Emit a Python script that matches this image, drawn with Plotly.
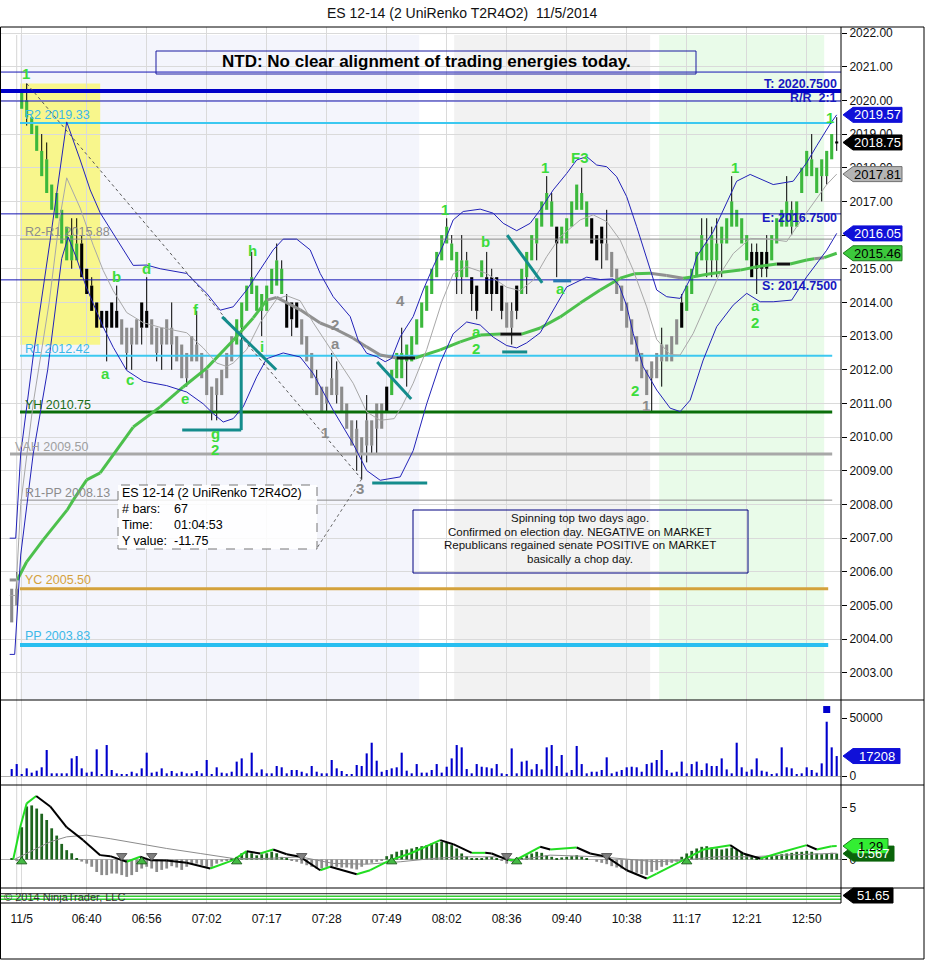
import plotly.graph_objects as go

W, H = 925, 960
FONT = "Liberation Sans, Arial, Helvetica, sans-serif"


def PX(x):
    return x / W


def PY(y):
    return 1 - y / H


# ---------------- geometry (pixels) ----------------
PLOT_L, PLOT_R = 1, 841
PRICE_T, PRICE_B = 27, 700
VOL_B, OSC_B, BOT_B = 785, 888, 903
X_RANGE = [-2.14, 165.86]
PRICE_RANGE = [2002.196, 2022.178]
VOL_RANGE = [-7759, 65517]
OSC_RANGE = [-2.74, 7.163]

# ---------------- data ----------------
time_ticks = [2, 15, 27, 39, 51, 63, 75, 87, 99, 111, 123, 135, 147, 159]
time_labels = ["11/5", "06:40", "06:56", "07:02", "07:17", "07:28", "07:49",
               "08:02", "08:36", "09:40", "10:38", "11:17", "12:21", "12:50"]
price_ticks = list(range(2003, 2023))

bar_lo = [2004.5, 2005.0, 2019.75, 2019.5, 2019.0, 2018.5, 2017.75, 2017.25, 2016.75, 2016.5,
          2015.75, 2015.25, 2015.25, 2015.25, 2014.75, 2014.25, 2013.75, 2013.25, 2013.25, 2013.25,
          2013.25, 2013.25, 2012.75, 2012.5, 2012.75, 2012.75, 2013.25, 2013.25, 2012.75, 2012.5,
          2012.75, 2012.75, 2012.75, 2012.25, 2011.75, 2011.75, 2012.25, 2012.25, 2011.75, 2011.25,
          2010.75, 2011.25, 2011.25, 2011.75, 2012.25, 2012.75, 2013.25, 2013.75, 2014.25, 2013.75,
          2013.75, 2013.75, 2014.25, 2014.5, 2014.25, 2013.25, 2013.5, 2013.25, 2012.75, 2012.25,
          2011.75, 2011.25, 2010.75, 2011.0, 2011.25, 2011.25, 2010.75, 2010.25, 2009.75, 2009.5,
          2009.5, 2009.75, 2009.75, 2010.25, 2010.25, 2010.75, 2011.25, 2011.75, 2011.75, 2012.25,
          2012.25, 2012.75, 2013.25, 2013.75, 2014.25, 2014.75, 2015.25, 2015.75, 2015.25, 2014.75,
          2014.75, 2014.75, 2014.25, 2013.75, 2014.75, 2014.25, 2014.25, 2014.25, 2013.75, 2013.25,
          2013.25, 2013.75, 2014.25, 2014.75, 2015.25, 2015.75, 2016.25, 2016.75, 2016.25, 2015.75,
          2015.75, 2015.75, 2016.25, 2016.75, 2016.75, 2016.25, 2015.75, 2015.25, 2015.75, 2015.25,
          2014.75, 2014.25, 2013.75, 2013.25, 2012.75, 2012.25, 2011.75, 2011.25, 2011.75, 2011.75,
          2012.25, 2012.25, 2012.25, 2012.75, 2013.25, 2013.75, 2014.25, 2014.75, 2015.25, 2015.25,
          2015.25, 2015.25, 2015.75, 2015.75, 2016.25, 2016.25, 2015.75, 2015.25, 2014.75, 2015.0,
          2015.0, 2015.0, 2015.25, 2015.75, 2016.25, 2016.25, 2016.25, 2016.25, 2017.25, 2017.75,
          2017.75, 2017.25, 2017.75, 2017.75, 2018.25, 2018.72]
bar_hi = [2005.5, 2005.5, 2020.25, 2020.0, 2019.5, 2019.25, 2018.5, 2018.25, 2017.5, 2017.25,
          2016.75, 2016.25, 2016.0, 2015.75, 2015.75, 2015.0, 2014.5, 2014.0, 2013.75, 2013.75,
          2014.0, 2013.75, 2013.5, 2013.25, 2013.25, 2013.5, 2014.0, 2013.75, 2013.5, 2013.25,
          2013.25, 2013.5, 2013.25, 2013.0, 2012.75, 2012.5, 2013.0, 2012.75, 2012.5, 2012.0,
          2011.5, 2011.75, 2012.0, 2012.5, 2013.0, 2013.5, 2014.0, 2014.5, 2014.75, 2014.5,
          2014.25, 2014.5, 2015.0, 2015.25, 2015.0, 2014.0, 2014.0, 2014.0, 2013.5, 2013.0,
          2012.5, 2011.75, 2011.5, 2011.5, 2011.75, 2012.0, 2011.5, 2011.0, 2010.5, 2010.25,
          2010.0, 2010.5, 2010.5, 2011.0, 2011.0, 2011.5, 2012.0, 2012.5, 2012.5, 2012.75,
          2013.0, 2013.5, 2014.0, 2014.5, 2015.0, 2015.5, 2016.0, 2016.25, 2015.75, 2015.5,
          2015.25, 2015.25, 2014.75, 2014.5, 2015.25, 2014.75, 2014.75, 2014.75, 2014.5, 2014.0,
          2013.75, 2014.5, 2015.0, 2015.5, 2016.0, 2016.5, 2017.0, 2017.25, 2017.0, 2016.25,
          2016.25, 2016.5, 2017.0, 2017.5, 2017.25, 2017.0, 2016.5, 2016.0, 2016.25, 2015.75,
          2015.5, 2015.0, 2014.5, 2014.0, 2013.5, 2013.0, 2012.5, 2012.0, 2012.25, 2012.5,
          2012.75, 2012.75, 2013.0, 2013.5, 2014.0, 2014.5, 2015.0, 2015.5, 2016.0, 2015.75,
          2016.0, 2015.75, 2016.25, 2016.5, 2017.0, 2016.75, 2016.5, 2016.0, 2015.5, 2015.5,
          2015.5, 2015.5, 2016.0, 2016.5, 2016.75, 2017.0, 2016.75, 2017.0, 2018.0, 2018.5,
          2018.25, 2018.0, 2018.25, 2018.5, 2019.0, 2018.78]
wick_lo = [2004.5, 2005.0, 2019.75, 2019.25, 2019.0, 2018.5, 2017.75, 2017.25, 2016.75, 2016.5,
           2015.75, 2015.25, 2015.0, 2015.25, 2014.75, 2014.25, 2013.75, 2013.25, 2013.25, 2012.25,
           2013.25, 2013.25, 2012.75, 2012.0, 2012.0, 2012.75, 2012.75, 2013.25, 2012.75, 2012.25,
           2012.0, 2012.75, 2012.0, 2012.25, 2011.75, 2011.5, 2012.25, 2012.25, 2011.75, 2011.25,
           2010.5, 2010.5, 2011.25, 2011.75, 2012.25, 2012.75, 2012.5, 2013.75, 2014.25, 2013.75,
           2013.0, 2013.75, 2014.25, 2014.5, 2014.25, 2013.25, 2013.0, 2013.25, 2012.75, 2012.25,
           2011.75, 2011.25, 2010.75, 2010.75, 2011.25, 2011.0, 2010.75, 2010.25, 2009.75, 2009.0,
           2008.75, 2009.25, 2009.5, 2009.5, 2010.25, 2010.75, 2011.25, 2011.75, 2011.75, 2011.5,
           2012.25, 2012.75, 2013.25, 2013.75, 2014.25, 2014.75, 2015.25, 2015.75, 2015.25, 2014.25,
           2014.25, 2014.75, 2013.75, 2013.5, 2014.75, 2014.25, 2013.75, 2014.25, 2013.5, 2013.25,
           2012.75, 2013.5, 2014.25, 2014.25, 2015.25, 2015.25, 2016.25, 2016.75, 2016.25, 2014.75,
           2015.75, 2015.75, 2016.25, 2016.75, 2016.75, 2016.25, 2015.75, 2015.25, 2015.0, 2015.25,
           2014.75, 2014.25, 2013.75, 2013.25, 2012.75, 2012.25, 2011.75, 2011.25, 2010.75, 2011.75,
           2011.5, 2012.25, 2012.25, 2012.75, 2013.25, 2013.75, 2014.25, 2014.75, 2015.25, 2014.75,
           2014.75, 2014.75, 2014.75, 2015.75, 2016.25, 2016.25, 2015.75, 2015.25, 2014.75, 2014.25,
           2014.75, 2014.75, 2015.25, 2015.75, 2016.25, 2016.25, 2016.0, 2016.25, 2017.25, 2017.75,
           2017.75, 2017.25, 2017.0, 2017.5, 2018.25, 2018.5]
wick_hi = [2005.5, 2006.0, 2020.25, 2020.5, 2019.5, 2019.25, 2019.0, 2018.75, 2017.5, 2017.25,
           2016.75, 2016.25, 2016.5, 2016.5, 2016.0, 2015.0, 2014.75, 2014.0, 2013.75, 2013.75,
           2014.0, 2014.5, 2013.5, 2013.25, 2013.25, 2013.5, 2014.0, 2014.75, 2013.5, 2013.25,
           2013.25, 2013.5, 2014.0, 2013.0, 2012.75, 2012.5, 2013.0, 2013.75, 2012.5, 2012.0,
           2011.5, 2011.75, 2012.0, 2012.5, 2013.0, 2013.5, 2014.0, 2014.5, 2015.5, 2014.5,
           2014.25, 2014.5, 2015.0, 2015.75, 2015.25, 2014.25, 2014.0, 2014.0, 2013.5, 2013.0,
           2012.5, 2012.0, 2011.5, 2011.5, 2012.5, 2012.25, 2011.5, 2011.0, 2010.5, 2010.5,
           2010.0, 2011.25, 2010.5, 2011.0, 2011.0, 2011.5, 2012.0, 2012.5, 2013.25, 2012.75,
           2013.0, 2013.5, 2014.0, 2014.5, 2015.0, 2015.5, 2016.0, 2016.5, 2016.0, 2015.5,
           2016.0, 2015.5, 2014.75, 2014.5, 2015.25, 2015.5, 2015.0, 2014.75, 2014.5, 2014.0,
           2014.0, 2014.5, 2015.0, 2015.5, 2016.0, 2016.5, 2017.0, 2017.75, 2017.25, 2016.25,
           2016.25, 2016.5, 2017.0, 2017.5, 2018.0, 2017.0, 2016.5, 2016.0, 2016.25, 2016.75,
           2015.5, 2015.0, 2014.5, 2014.0, 2013.5, 2013.0, 2012.5, 2012.0, 2012.25, 2012.5,
           2013.25, 2012.75, 2013.0, 2013.5, 2014.25, 2014.5, 2015.0, 2015.5, 2016.5, 2016.5,
           2016.25, 2016.5, 2016.25, 2016.5, 2017.75, 2016.75, 2016.5, 2016.0, 2015.75, 2015.75,
           2015.5, 2016.0, 2016.0, 2016.5, 2016.75, 2017.75, 2017.0, 2017.0, 2018.0, 2018.5,
           2019.0, 2018.0, 2018.25, 2018.5, 2019.0, 2019.5]
# G = gray, B = black, L = green
bar_col = ("GG" "LLLLLLLLLLLL" "BBBBBBBB" "GGGG" "BB" "GGGGGGGGGGGGGGGGG" "LLLLLLLLLL" "BBB"
           "GGGGGGGGGGGGGGGGG" "B" "LLLLLLLLLLLLLLLL" "BB" "L" "BBBB" "GG" "B" "LLLLLLL" "B"
           "LLLLLL" "BBB" "GGGGGGGGGGGGGGG" "B" "LLLLLLLLLLLLL" "BBBB" "LLLLLLLLLLLLL" "B")

volume = [6000, 10300, 1700, 6600, 2900, 4600, 7500, 22400, 2300, 2300,
          2300, 2300, 15200, 17200, 6600, 2900, 3700, 23000, 1700, 26700,
          5200, 2300, 1400, 1400, 3700, 2300, 6600, 20100, 2900, 3700,
          6600, 2300, 4300, 2300, 3700, 2300, 2300, 4300, 2300, 13800,
          1400, 7500, 2900, 2300, 3700, 12400, 15200, 2300, 20100, 2900,
          5700, 2300, 2300, 8600, 7500, 2300, 5200, 5200, 3700, 2300,
          8600, 3700, 2300, 2300, 13800, 6600, 4300, 1400, 900, 9500,
          8600, 19500, 28700, 13200, 3700, 5200, 6600, 7500, 20100, 4600,
          2300, 10300, 2900, 2900, 5200, 10300, 2900, 8000, 15200, 26700,
          24700, 6000, 2300, 10300, 8000, 7500, 6600, 10300, 2300, 1400,
          23800, 2300, 12400, 13200, 5700, 10300, 5700, 24700, 26700, 8600,
          18100, 2900, 5200, 25900, 10300, 2300, 3700, 3700, 5200, 16100,
          2300, 3700, 5200, 7500, 8000, 7500, 3700, 10300, 11500, 13800,
          22400, 5200, 2900, 3700, 12400, 2300, 10300, 12400, 5200, 10900,
          8600, 8600, 15200, 5700, 2300, 28700, 7500, 3700, 5700, 15200,
          4600, 3700, 1700, 2300, 24700, 7500, 6600, 1700, 2300, 7500,
          5200, 2900, 10900, 46800, 24700, 17208]
vol_alert_x, vol_alert_y = 163, 57300

osc_hist = [0.05, -0.05, 3.1, 5.1, 5.2, 4.9, 4.4, 3.8, 3.0, 2.3,
            1.5, 0.9, 0.6, 0.1, -0.2, -0.4, -0.7, -1.2, -1.5, -1.5,
            -1.35, -1.35, -1.5, -1.67, -1.5, -1.2, -0.87, -0.7, -0.87, -1.2,
            -1.0, -0.87, -0.64, -0.77, -1.0, -0.7, -0.4, -0.4, -0.55, -0.7,
            -0.7, -0.4, -0.2, -0.06, 0.1, 0.25, 0.6, 0.75, 0.6, 0.4,
            0.5, 0.6, 0.75, 0.6, 0.25, 0.1, -0.12, -0.22, -0.4, -0.55,
            -0.7, -0.87, -0.87, -0.7, -0.64, -0.7, -0.77, -0.77, -0.87, -0.96,
            -0.7, -0.45, -0.32, -0.22, -0.06, 0.32, 0.5, 0.75, 0.9, 0.96,
            1.06, 1.2, 1.28, 1.38, 1.54, 1.6, 1.7, 1.6, 1.38, 1.06,
            0.58, 0.3, 0.1, 0.1, 0.1, 0.25, 0.25, 0.1, -0.13, -0.4,
            -0.22, 0.0, 0.1, 0.4, 0.58, 0.74, 0.64, 0.4, 0.26, 0.1,
            0.2, 0.26, 0.32, 0.42, 0.26, 0.1, 0.0, -0.22, -0.32, -0.45,
            -0.64, -0.77, -0.87, -1.03, -1.19, -1.28, -1.41, -1.5, -1.19, -1.03,
            -0.7, -0.55, -0.32, -0.22, 0.26, 0.58, 0.83, 1.06, 1.22, 1.28,
            1.15, 1.06, 0.96, 1.06, 1.15, 0.96, 0.74, 0.51, 0.26, 0.1,
            0.2, 0.26, 0.32, 0.42, 0.51, 0.58, 0.64, 0.74, 0.74, 0.83,
            0.74, 0.58, 0.51, 0.58, 0.64, 0.567]

osc_line_x = [0.3, 1.7, 3.0, 4.9, 7.7, 11, 14.3, 17.7, 19.7, 23, 25.7, 27.7, 31, 35, 39.7,
              44.3, 47, 49.7, 52.3, 55, 57.7, 61.7, 63.7, 69, 71.7, 75.7, 79.7, 85.7, 88.3, 92,
              94.7, 96, 99.3, 101, 105.7, 107.7, 113, 115.7, 119, 123, 127, 129, 134.3, 138.3,
              143.7, 146.3, 149.7, 154.3, 159, 161, 164, 165]
osc_line_v = [0, 3.1, 5.4, 6.1, 5.1, 3.1, 1.86, 0.42, 0.32, -0.22, 0.26, -0.06, -0.1, -0.32, -0.87,
              -0.06, 0.8, 0.58, 0.96, 0.51, 0.26, -1.03, -0.7, -1.41, -1.03, -0.06, 0.58, 1.86, 1.47,
              0.64, 0.64, 0.58, -0.06, 0.0, 1.22, 0.96, 1.15, 0.58, 0.26, -1.03, -1.83, -1.35, -0.06,
              0.96, 1.38, 0.58, 0.1, 0.74, 1.38, 0.96, 1.28, 1.29]
osc_sig_x = [0.5, 4.3, 7.7, 11, 15, 19.7, 24.3, 31, 37.7, 44.3, 51, 57.7, 64.3, 71, 77.7, 84.3,
             89.7, 98, 101, 107.7, 117.7, 124.3, 129, 134.3, 141, 147.7, 154.3, 165]
osc_sig_v = [0, 0.9, 1.7, 2.18, 2.34, 2.0, 1.6, 1.06, 0.58, 0.1, 0.1, 0.26, -0.38, -0.45, -0.22,
             0.1, 0.26, 0.26, -0.06, 0.42, 0.26, -0.06, -0.22, -0.06, 0.26, 0.26, 0.42, 0.6]
cross_up_x = [2, 26, 45, 76, 101, 135]
cross_dn_x = [22, 28, 58, 99, 119]

ub_x = [-0.4, 0.8, 1.8, 4.3, 7.7, 9.5, 11, 13.7, 15.7, 17.7, 20.3, 22.3, 24.3, 27, 29.7, 35, 39,
        41.7, 44.3, 47, 49.7, 52.3, 54.3, 57, 59.7, 61.7, 64.3, 67.7, 69.3, 71, 73, 74.7, 76, 77.7,
        80.3, 82.3, 84.3, 86.3, 88.3, 90.3, 93.7, 96.3, 98.3, 101, 103.7, 105.7, 108.3, 111, 113,
        115, 117, 119, 121, 123, 125, 127.7, 129, 131, 133.7, 135.7, 137, 140.3, 145, 147.7, 152.3,
        156.3, 159, 161, 163.7, 165]
ub_v = [2007.0, 2007.0, 2009.5, 2012.4, 2015.85, 2017.8, 2019.36, 2018.23, 2017.34, 2016.66,
        2016.06, 2015.56, 2015.1, 2015.11, 2015.0, 2014.86, 2014.27, 2013.77, 2013.87, 2014.37,
        2014.96, 2015.56, 2015.88, 2015.88, 2015.56, 2014.86, 2014.17, 2013.58, 2012.88, 2012.49,
        2012.39, 2012.24, 2012.34, 2012.98, 2013.58, 2014.37, 2015.06, 2015.7, 2016.45, 2016.7,
        2016.77, 2016.65, 2016.35, 2016.13, 2016.35, 2016.75, 2017.34, 2017.83, 2018.23, 2018.33,
        2018.08, 2018.03, 2017.73, 2017.14, 2016.25, 2014.95, 2014.37, 2014.17, 2014.12, 2014.7,
        2015.36, 2016.1, 2017.6, 2017.8, 2017.5, 2017.6, 2018.15, 2018.65, 2019.3, 2019.57]
lb_x = [-0.4, 0.6, 1.8, 4.3, 7.2, 10, 11.3, 13, 14.9, 18.3, 20.3, 23, 26.3, 31, 35, 38.3, 40.3,
        42.3, 44.3, 46.3, 49, 51, 54.3, 57.7, 60.3, 64.3, 68.3, 71, 73.7, 77.7, 80.3, 83, 85.7,
        88.3, 91, 93.7, 96.3, 99, 101, 103, 105.7, 108.3, 111, 115, 117.7, 120.3, 121.5, 123,
        124.3, 126.3, 129, 131.7, 133.7, 135.7, 138.3, 141, 144.3, 147, 149.7, 152.3, 156, 159,
        163, 165]
lb_v = [2003.55, 2003.55, 2006.5, 2009.5, 2012.0, 2015.3, 2015.94, 2015.3, 2014.46, 2013.27,
        2012.67, 2011.98, 2011.66, 2011.53, 2011.34, 2010.99, 2010.7, 2010.45, 2010.55, 2010.9,
        2011.79, 2012.33, 2012.5, 2012.38, 2011.89, 2010.8, 2009.8, 2009.01, 2008.72, 2008.82,
        2009.6, 2010.99, 2012.2, 2013.07, 2013.42, 2013.33, 2012.97, 2012.72, 2012.65, 2012.8,
        2013.1, 2013.76, 2014.46, 2014.75, 2014.68, 2014.7, 2014.5, 2013.9, 2013.08, 2012.09,
        2011.4, 2010.86, 2010.76, 2011.1, 2012.29, 2013.28, 2013.92, 2014.27, 2014.02, 2014.02,
        2014.07, 2014.76, 2015.55, 2016.05]
mid_x = [-0.4, 0.8, 1.8, 4.3, 7.5, 9.5, 11, 13.7, 16.3, 18.3, 20.3, 23, 26.3, 30, 35, 38.3, 41,
         43, 44.3, 47, 49.7, 53, 55, 57.7, 60.3, 64.3, 68.3, 71, 73.7, 76.5, 78, 80.3, 83, 86,
         88.3, 91, 95, 99, 101.7, 104.3, 107, 109.7, 113.7, 116.3, 119, 121.7, 124.3, 127, 129,
         131.7, 133.7, 136.3, 138.7, 141.3, 144.3, 147.7, 151, 155, 157.7, 161, 163, 165]
mid_v = [2005.3, 2005.3, 2008.0, 2011.0, 2014.0, 2016.4, 2017.7, 2016.8, 2015.7, 2014.95,
         2014.35, 2013.7, 2013.4, 2013.25, 2013.1, 2012.65, 2012.2, 2012.1, 2012.2, 2012.6,
         2013.4, 2014.1, 2014.2, 2014.05, 2013.4, 2012.5, 2011.6, 2010.75, 2010.5, 2010.55,
         2010.9, 2011.6, 2012.6, 2014.0, 2014.85, 2015.06, 2014.86, 2014.45, 2014.35, 2014.66,
         2015.36, 2015.95, 2016.45, 2016.6, 2016.4, 2015.85, 2014.96, 2013.87, 2012.9, 2012.45,
         2012.44, 2013.08, 2013.87, 2014.76, 2015.45, 2015.9, 2015.89, 2015.81, 2016.4, 2017.1,
         2017.5, 2017.81]
ma_x = [-0.4, 1.1, 3.0, 6.3, 11.1, 12.3, 15, 17.7, 24.3, 29.7, 34.3, 39, 44.3, 48.3, 51, 53,
        57.7, 61.7, 64.3, 68.3, 71, 73.7, 77, 80.7, 85.7, 89.7, 93.7, 97.7, 102, 105.7, 109.7,
        113.7, 117.7, 121.7, 124.5, 127.7, 131, 134.3, 136.3, 140, 145.7, 149, 153, 155.7, 159,
        160.5, 162.5, 165]
ma_v = [2005.76, 2005.76, 2006.3, 2006.95, 2007.84, 2008.13, 2008.73, 2008.94, 2010.3, 2010.9,
        2011.49, 2012.05, 2012.88, 2013.54, 2014.07, 2014.15, 2013.78, 2013.39, 2013.24, 2012.94,
        2012.68, 2012.44, 2012.35, 2012.35, 2012.59, 2012.83, 2013.03, 2013.06, 2013.06, 2013.24,
        2013.57, 2013.98, 2014.37, 2014.72, 2014.85, 2014.87, 2014.8, 2014.72, 2014.76, 2014.86,
        2014.96, 2015.06, 2015.14, 2015.14, 2015.26, 2015.3, 2015.33, 2015.46]
ma_seg_col = ("G" "LLLLLLLLLLLLL" "GGGGGGGG" "B" "LLLL" "B" "LLLLLLL" "GG" "LLLLL" "B" "LL" "G" "L")

# horizontal levels: value, start bar, end bar
level_names = ["T", "TT", "RR", "R2", "E", "R2-R1", "S", "R1", "YH", "VAH", "R1-PP", "YC", "PP"]
level_values = [2020.84, 2020.28, 2019.98, 2019.33, 2016.63, 2015.88, 2014.67, 2012.42, 2010.75,
                2009.50, 2008.13, 2005.50, 2003.83]
level_x0 = [-2.14, -2.14, -2.14, 1.66, -2.14, 1.66, -2.14, 1.66, 1.66, -0.34, 1.66, 1.66, 1.66]
level_x1 = [165.86, 165.86, 165.86, 164.1, 165.86, 164.1, 165.86, 164.1, 164.1, 164.1, 164.1,
            163.3, 163.3]
level_colors = ["#1414b4", "#0000c8", "#1414b4", "#3cc8f0", "#1414b4", "#8c8c8c", "#1414b4",
                "#3cc8f0", "#0a6e0a", "#a8a8a8", "#8c8c8c", "#d4a23c", "#28bef0"]
level_widths = [1, 4, 1, 2, 1, 1, 1, 2, 3, 3, 1, 3, 4]
pivot_labels = ["R2 2019.33", "R2-R1 2015.88", "R1 2012.42", "YH 2010.75", "VAH 2009.50",
                "R1-PP 2008.13", "YC 2005.50", "PP 2003.83"]
pivot_label_px = [(23, 115), (23, 232), (23, 349), (23, 405), (13, 447), (23, 493), (23, 580),
                  (23, 636)]
pivot_label_col = ["#3cb8e8", "#8c8c8c", "#3cb8e8", "#1a6e1a", "#a0a0a0", "#8c8c8c", "#d4a23c",
                   "#3cb8e8"]
trade_labels = ["T: 2020.7500", "R/R  2:1", "E: 2016.7500", "S: 2014.7500"]
trade_label_py = [84, 98, 218, 286]

# wave labels: bar index, price, text
wave_green = [(2.9, 2020.81, "1"), (18.7, 2011.9, "a"), (20.9, 2014.78, "b"), (23.7, 2011.7, "c"),
              (26.9, 2015.02, "d"), (34.7, 2011.16, "e"), (36.9, 2013.78, "f"), (40.7, 2010.12, "g"),
              (40.7, 2009.62, "2"), (48.1, 2015.53, "h"), (50.1, 2012.68, "i"), (86.7, 2016.77, "1"),
              (94.7, 2015.8, "b"), (92.9, 2013.15, "a"), (92.9, 2012.62, "2"), (106.7, 2018.02, "1"),
              (113.7, 2018.29, "F3"), (109.7, 2014.4, "a"), (124.7, 2011.4, "2"),
              (144.7, 2018.02, "1"), (148.7, 2013.92, "a"), (148.7, 2013.4, "2"),
              (163.7, 2019.5, "1")]
wave_gray = [(64.7, 2013.33, "2"), (64.7, 2012.77, "a"), (62.7, 2010.15, "1"), (69.7, 2008.49, "3"),
             (77.7, 2014.07, "4"), (126.9, 2010.95, "1")]
# teal trend marks: (x0, p0, x1, p1)
teal_marks = [(42.1, 2013.57, 52.9, 2012.0), (45.9, 2012.9, 45.9, 2010.21),
              (34.1, 2010.21, 45.9, 2010.21), (73.1, 2012.23, 79.9, 2011.13),
              (72.1, 2008.64, 83.1, 2008.64), (98.1, 2012.53, 103.1, 2012.53),
              (99.1, 2016.0, 106.1, 2014.58)]
blue_mark = (108.3, 2014.64, 111.9, 2014.64)
measure_pts = [(3, 2020.5), (70, 2008.75)]

N = len(bar_lo)
assert len(bar_col) == N and len(volume) == N and len(osc_hist) == N

# ---------------- figure ----------------
fig = go.Figure()
shapes = []
annos = []

# background shading
for x0, x1, col in [(1.66, 81.5, "#f4f5fc"), (88.5, 127.7, "#f2f2f2"), (129.5, 162.5, "#e9fbe9")]:
    shapes.append(dict(type="rect", xref="x", yref="y", x0=x0, x1=x1, y0=PRICE_RANGE[0], y1=2021.94,
                       fillcolor=col, line=dict(width=0), layer="below"))
shapes.append(dict(type="rect", xref="x", yref="y", x0=1.7, x1=17.7, y0=2012.74, y1=2020.5,
                   fillcolor="#f8f68c", line=dict(width=0), layer="below"))
# session break line
shapes.append(dict(type="line", xref="x", yref="paper", x0=1, x1=1, y0=PY(BOT_B), y1=PY(35),
                   line=dict(color="#d6d6d6", width=1), layer="below"))

# price bars
colmap = {"G": "#8c8c8c", "B": "#000000", "L": "#3cb83c"}
# wicks
wx, wy = [], []
for i in range(N):
    if i == N - 1:
        wx += [i, i, None]
        wy += [wick_lo[i], wick_hi[i], None]
        continue
    if wick_hi[i] > bar_hi[i]:
        wx += [i, i, None]
        wy += [bar_hi[i], wick_hi[i], None]
    if wick_lo[i] < bar_lo[i]:
        wx += [i, i, None]
        wy += [wick_lo[i], bar_lo[i], None]
fig.add_trace(go.Scatter(x=wx, y=wy, mode="lines", line=dict(color="#000000", width=1),
                         hoverinfo="skip", showlegend=False, xaxis="x", yaxis="y"))
for code in "GBL":
    xs = [i for i in range(N) if bar_col[i] == code]
    fig.add_trace(go.Bar(x=xs, y=[bar_hi[i] - bar_lo[i] for i in xs], base=[bar_lo[i] for i in xs],
                         width=0.62, marker=dict(color=colmap[code], line=dict(width=0)),
                         hoverinfo="skip", showlegend=False, xaxis="x", yaxis="y"))

# level lines
for k in range(len(level_values)):
    fig.add_trace(go.Scatter(x=[level_x0[k], level_x1[k]], y=[level_values[k], level_values[k]],
                             mode="lines", line=dict(color=level_colors[k], width=level_widths[k]),
                             hoverinfo="skip", showlegend=False, xaxis="x", yaxis="y"))

# thick moving average, colored segments
for code, col in [("G", "#909090"), ("B", "#111111"), ("L", "#4cc04c")]:
    sx, sy = [], []
    for k, c in enumerate(ma_seg_col):
        if c == code:
            sx += [ma_x[k], ma_x[k + 1], None]
            sy += [ma_v[k], ma_v[k + 1], None]
    fig.add_trace(go.Scatter(x=sx, y=sy, mode="lines", line=dict(color=col, width=3),
                             hoverinfo="skip", showlegend=False, xaxis="x", yaxis="y"))

# bollinger style bands
fig.add_trace(go.Scatter(x=mid_x, y=mid_v, mode="lines", line=dict(color="#a8a8a8", width=1),
                         hoverinfo="skip", showlegend=False, xaxis="x", yaxis="y"))
for bx, bv in [(ub_x, ub_v), (lb_x, lb_v)]:
    fig.add_trace(go.Scatter(x=bx, y=bv, mode="lines", line=dict(color="#2222b8", width=1),
                             hoverinfo="skip", showlegend=False, xaxis="x", yaxis="y"))

# measurement line
fig.add_trace(go.Scatter(x=[p[0] for p in measure_pts], y=[p[1] for p in measure_pts], mode="lines",
                         line=dict(color="#555555", width=1, dash="dot"), hoverinfo="skip",
                         showlegend=False, xaxis="x", yaxis="y"))

# teal marks
for (x0, p0, x1, p1) in teal_marks:
    fig.add_trace(go.Scatter(x=[x0, x1], y=[p0, p1], mode="lines", line=dict(color="#148c8c", width=3),
                             hoverinfo="skip", showlegend=False, xaxis="x", yaxis="y"))
fig.add_trace(go.Scatter(x=[blue_mark[0], blue_mark[2]], y=[blue_mark[1], blue_mark[3]], mode="lines",
                         line=dict(color="#2878b4", width=3), hoverinfo="skip", showlegend=False,
                         xaxis="x", yaxis="y"))

# volume
fig.add_trace(go.Bar(x=list(range(N)), y=volume, width=0.42, marker=dict(color="#0000cc", line=dict(width=0)),
                     hoverinfo="skip", showlegend=False, xaxis="x", yaxis="y2"))
fig.add_trace(go.Scatter(x=[vol_alert_x], y=[vol_alert_y], mode="markers",
                         marker=dict(symbol="square", size=7, color="#0000cc"), hoverinfo="skip",
                         showlegend=False, xaxis="x", yaxis="y2"))

# oscillator
fig.add_trace(go.Bar(x=list(range(N)), y=osc_hist, width=0.55,
                     marker=dict(color=["#1e641e" if v >= 0 else "#8c8c8c" for v in osc_hist], line=dict(width=0)),
                     hoverinfo="skip", showlegend=False, xaxis="x", yaxis="y3"))
fig.add_trace(go.Scatter(x=osc_sig_x, y=osc_sig_v, mode="lines", line=dict(color="#8c8c8c", width=1),
                         hoverinfo="skip", showlegend=False, xaxis="x", yaxis="y3"))
for up, col in [(True, "#22dd22"), (False, "#000000")]:
    sx, sy = [], []
    for k in range(len(osc_line_x) - 1):
        rising = osc_line_v[k + 1] >= osc_line_v[k]
        if rising == up:
            sx += [osc_line_x[k], osc_line_x[k + 1], None]
            sy += [osc_line_v[k], osc_line_v[k + 1], None]
    fig.add_trace(go.Scatter(x=sx, y=sy, mode="lines", line=dict(color=col, width=2),
                             hoverinfo="skip", showlegend=False, xaxis="x", yaxis="y3"))
fig.add_trace(go.Scatter(x=cross_up_x, y=[-0.2] * len(cross_up_x), mode="markers",
                         marker=dict(symbol="triangle-up", size=9, color="#44bb44",
                                     line=dict(color="#1e641e", width=1)),
                         hoverinfo="skip", showlegend=False, xaxis="x", yaxis="y3"))
fig.add_trace(go.Scatter(x=cross_dn_x, y=[0.35] * len(cross_dn_x), mode="markers",
                         marker=dict(symbol="triangle-down", size=9, color="#808080",
                                     line=dict(color="#555555", width=1)),
                         hoverinfo="skip", showlegend=False, xaxis="x", yaxis="y3"))

# bottom mini panel
bot_x = [-2.14, 165.86]
fig.add_trace(go.Scatter(x=bot_x, y=[0.62, 0.62], mode="lines", line=dict(color="#222222", width=1),
                         hoverinfo="skip", showlegend=False, xaxis="x", yaxis="y4"))
fig.add_trace(go.Scatter(x=bot_x, y=[0.45, 0.45], mode="lines", line=dict(color="#33cc33", width=1.5),
                         hoverinfo="skip", showlegend=False, xaxis="x", yaxis="y4"))
fig.add_trace(go.Scatter(x=bot_x, y=[0.25, 0.25], mode="lines", line=dict(color="#33cc33", width=1.5),
                         hoverinfo="skip", showlegend=False, xaxis="x", yaxis="y4"))

# ---------------- annotations ----------------
def text(x, y, s, size=12, color="#000", bold=False, xanchor="left", xref="paper", yref="paper"):
    if bold:
        s = "<b>" + s + "</b>"
    annos.append(dict(x=x, y=y, xref=xref, yref=yref, text=s, showarrow=False, xanchor=xanchor,
                      yanchor="middle", font=dict(family=FONT, size=size, color=color)))

for s, (px, py), c in zip(pivot_labels, pivot_label_px, pivot_label_col):
    text(PX(px), PY(py), s, size=12.5, color=c)
for s, py in zip(trade_labels, trade_label_py):
    text(PX(839), PY(py), s, size=12.5, color="#1818c0", bold=True, xanchor="right")
for (x, p, s) in wave_green:
    text(x, p, s, size=15, color="#3cdc3c", bold=True, xanchor="center", xref="x", yref="y")
for (x, p, s) in wave_gray:
    text(x, p, s, size=15, color="#8a8a8a", bold=True, xanchor="center", xref="x", yref="y")

# NTD box
shapes.append(dict(type="rect", xref="paper", yref="paper", x0=PX(156), x1=PX(696), y0=PY(74), y1=PY(51),
                   line=dict(color="#1a1aa0", width=1), layer="above"))
text(PX(426), PY(62), "NTD: No clear alignment of trading energies today.", size=17, bold=True,
     xanchor="center")

# comment box
shapes.append(dict(type="rect", xref="paper", yref="paper", x0=PX(413), x1=PX(748), y0=PY(573), y1=PY(510),
                   line=dict(color="#000080", width=1), layer="above"))
for s, py in zip(["Spinning top two days ago.", "Confirmed on election day. NEGATIVE on MARKET",
                  "Republicans regained senate POSITIVE on MARKET", "basically a chop day."],
                 [518, 531.5, 545, 558.5]):
    text(PX(580), PY(py), s, size=11.5, color="#111", xanchor="center")

# measurement tooltip
shapes.append(dict(type="rect", xref="paper", yref="paper", x0=PX(118), x1=PX(317), y0=PY(549), y1=PY(485),
                   line=dict(color="#777777", width=1, dash="dash"), fillcolor="rgba(255,255,255,0.85)",
                   layer="above"))
shapes.append(dict(type="line", xref="paper", yref="paper", x0=PX(361.7), y0=PY(479), x1=PX(317), y1=PY(548),
                   line=dict(color="#666666", width=1, dash="dot"), layer="above"))
text(PX(120), PY(493), "ES 12-14 (2 UniRenko T2R4O2)", size=12.5)
for lab, val, py in [("# bars:", "67", 509), ("Time:", "01:04:53", 525), ("Y value:", "-11.75", 541)]:
    text(PX(120), PY(py), lab, size=12.5)
    text(PX(172), PY(py), val, size=12.5)

# title & copyright
text(PX(462), PY(13), "ES 12-14 (2 UniRenko T2R4O2)  11/5/2014", size=14, color="#111", xanchor="center")
text(PX(2), PY(896.5), "© 2014 NinjaTrader, LLC", size=11, color="#333")


# axis flags
def price_px(v):
    return PRICE_T + (PRICE_RANGE[1] - v) / (PRICE_RANGE[1] - PRICE_RANGE[0]) * (PRICE_B - PRICE_T)


def vol_px(v):
    return PRICE_B + (VOL_RANGE[1] - v) / (VOL_RANGE[1] - VOL_RANGE[0]) * (VOL_B - PRICE_B)


def osc_px(v):
    return VOL_B + (OSC_RANGE[1] - v) / (OSC_RANGE[1] - OSC_RANGE[0]) * (OSC_B - VOL_B)


def flag(yc, label, fill, tc, x1=902, border=None):
    x_tip, x0, h = 843, 853, 7.5
    path = (f"M {PX(x_tip)},{PY(yc)} L {PX(x0)},{PY(yc - h)} L {PX(x1)},{PY(yc - h)} "
            f"L {PX(x1)},{PY(yc + h)} L {PX(x0)},{PY(yc + h)} Z")
    shapes.append(dict(type="path", path=path, xref="paper", yref="paper", fillcolor=fill,
                       line=dict(color=border or fill, width=1), layer="above"))
    text(PX((x0 + x1) / 2), PY(yc), label, size=13, color=tc, xanchor="center")


flag(price_px(ub_v[-1]), f"{ub_v[-1]:.2f}", "#1010d8", "#ffffff")
flag(price_px(2018.75), "2018.75", "#000000", "#ffffff")
flag(price_px(mid_v[-1]), f"{mid_v[-1]:.2f}", "#b4b4b4", "#000000", border="#707070")
flag(price_px(lb_v[-1]), f"{lb_v[-1]:.2f}", "#1010d8", "#ffffff")
flag(price_px(ma_v[-1]), f"{ma_v[-1]:.2f}", "#3cc83c", "#000000", border="#1e7a1e")
flag(vol_px(volume[-1]), f"{volume[-1]}", "#1010d8", "#ffffff", x1=900)
flag(osc_px(osc_hist[-1]), f"{osc_hist[-1]:.3f}", "#0a640a", "#ffffff", x1=894)
flag(osc_px(osc_line_v[-1]), f"{osc_line_v[-1]:.2f}", "#33ee33", "#000000", x1=888, border="#1e7a1e")
flag(895.5, "51.65", "#000000", "#ffffff", x1=893)

# frame and separators
for y in [PRICE_B, VOL_B, OSC_B]:
    shapes.append(dict(type="line", xref="paper", yref="paper", x0=0, x1=PX(924), y0=PY(y), y1=PY(y),
                       line=dict(color="#000", width=1), layer="above"))
shapes.append(dict(type="line", xref="paper", yref="paper", x0=0, x1=PX(PLOT_R), y0=PY(BOT_B), y1=PY(BOT_B),
                   line=dict(color="#000", width=1), layer="above"))
shapes.append(dict(type="line", xref="paper", yref="paper", x0=PX(PLOT_R), x1=PX(PLOT_R), y0=PY(BOT_B),
                   y1=PY(PRICE_T), line=dict(color="#000", width=1), layer="above"))
shapes.append(dict(type="rect", xref="paper", yref="paper", x0=PX(0.5), x1=PX(924), y0=PY(959), y1=PY(PRICE_T),
                   line=dict(color="#000", width=1), layer="above"))

# ---------------- layout ----------------
axis_font = dict(family=FONT, size=12, color="#111")
fig.update_layout(
    width=W, height=H, margin=dict(l=0, r=0, t=0, b=0),
    paper_bgcolor="#ffffff", plot_bgcolor="rgba(0,0,0,0)",
    barmode="overlay", showlegend=False,
    xaxis=dict(domain=[PX(PLOT_L), PX(PLOT_R)], range=X_RANGE, anchor="y4",
               tickmode="array", tickvals=time_ticks, ticktext=time_labels,
               showgrid=True, gridcolor="#dadada", gridwidth=1, zeroline=False, showline=False,
               ticks="outside", ticklen=5, tickcolor="rgba(0,0,0,0)", tickfont=axis_font),
    yaxis=dict(domain=[PY(PRICE_B), PY(PRICE_T)], range=PRICE_RANGE, anchor="x", side="right",
               tickmode="array", tickvals=price_ticks, ticktext=[f"{v:.2f}" for v in price_ticks],
               showgrid=True, gridcolor="#dadada", zeroline=False, showline=False,
               ticks="outside", ticklen=5, tickcolor="#000", tickfont=axis_font),
    yaxis2=dict(domain=[PY(VOL_B), PY(PRICE_B)], range=VOL_RANGE, anchor="x", side="right",
                tickmode="array", tickvals=[0, 50000], ticktext=["0", "50000"],
                showgrid=False, zeroline=True, zerolinecolor="#b0b0b0", zerolinewidth=1,
                showline=False, ticks="outside", ticklen=5, tickcolor="#000", tickfont=axis_font),
    yaxis3=dict(domain=[PY(OSC_B), PY(VOL_B)], range=OSC_RANGE, anchor="x", side="right",
                tickmode="array", tickvals=[0, 5], ticktext=["0", "5"],
                showgrid=False, zeroline=True, zerolinecolor="#b0b0b0", zerolinewidth=1,
                showline=False, ticks="outside", ticklen=5, tickcolor="#000", tickfont=axis_font),
    yaxis4=dict(domain=[PY(BOT_B), PY(OSC_B)], range=[0, 1], anchor="x", side="right",
                showticklabels=False, showgrid=False, zeroline=False, showline=False, ticks=""),
    shapes=shapes, annotations=annos,
)

fig.write_html("out.html", config={"displayModeBar": False},
               post_script="document.body.style.margin='0px'; document.body.style.overflow='hidden';")
